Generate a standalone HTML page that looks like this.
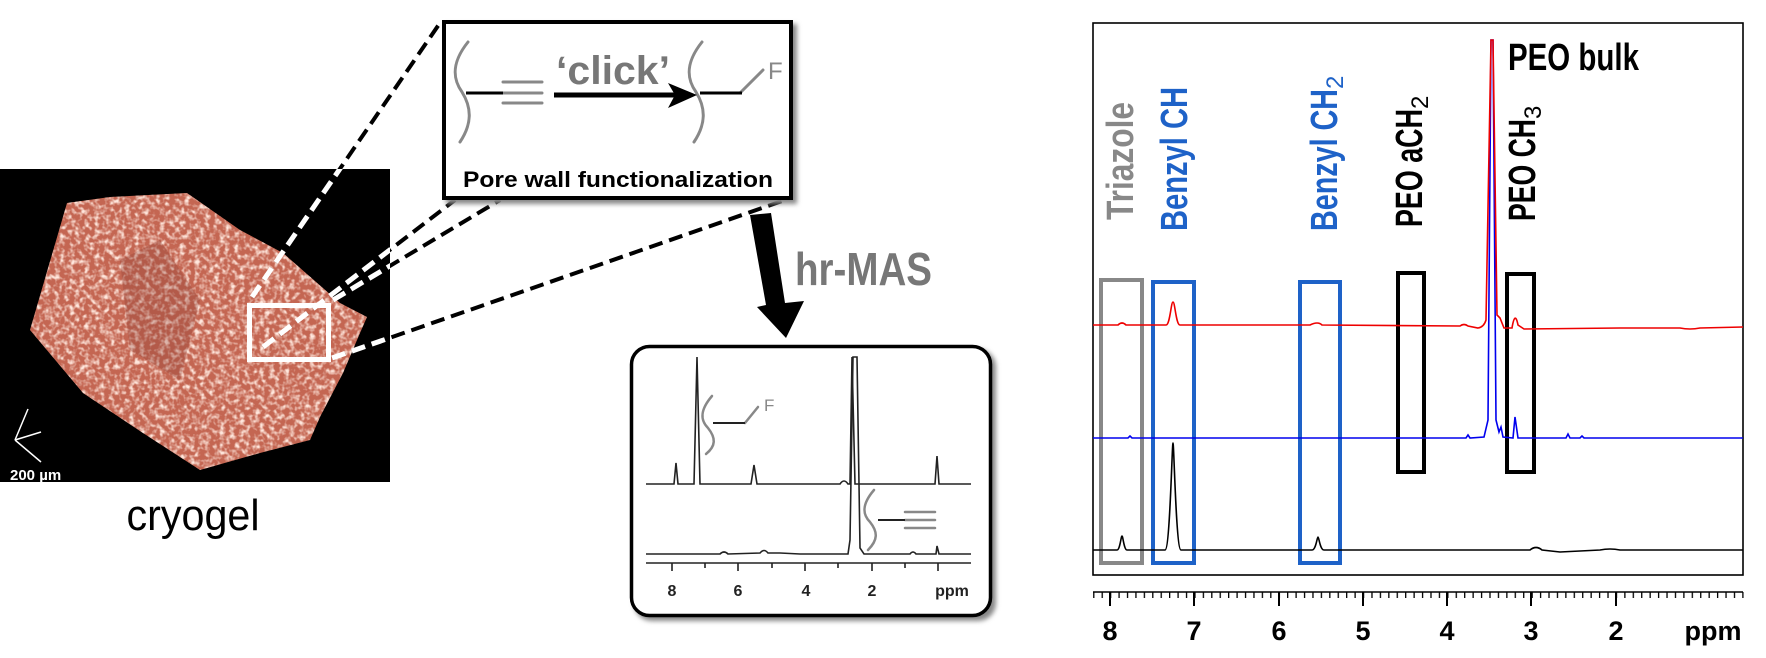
<!DOCTYPE html>
<html><head><meta charset="utf-8"><style>
html,body{margin:0;padding:0;background:#fff;}
svg{display:block;}
</style></head><body>
<svg width="1766" height="658" viewBox="0 0 1766 658" xmlns="http://www.w3.org/2000/svg">
<defs>
<filter id="tex" x="0" y="0" width="100%" height="100%">
<feTurbulence type="fractalNoise" baseFrequency="0.2" numOctaves="2" seed="3" result="n"/>
<feColorMatrix in="n" type="matrix" values="0 0 0 0 1  0 0 0 0 0.8  0 0 0 0 0.72  2.8 0 0 0 -1.2"/>
</filter>
<filter id="sh" x="-10%" y="-10%" width="130%" height="130%"><feGaussianBlur stdDeviation="2.5"/></filter>
<clipPath id="gel"><polygon points="30,330 67,203 110,197 187,193 240,230 283,253 340,303 367,317 360,333 343,373 320,417 310,440 260,453 200,470 143,433 83,393"/></clipPath>
<clipPath id="img"><rect x="0" y="169" width="390" height="313"/></clipPath>
<pattern id="minor" patternUnits="userSpaceOnUse" x="1110" y="592" width="8.43" height="10"><line x1="0.5" y1="0" x2="0.5" y2="6" stroke="#000" stroke-width="1.6"/></pattern>
</defs>

<rect x="0" y="169" width="390" height="313" fill="#000"/>
<g clip-path="url(#gel)">
<rect x="0" y="169" width="390" height="313" fill="#c46652"/>
<rect x="0" y="169" width="390" height="313" filter="url(#tex)"/>
<polygon points="120,260 160,240 200,300 180,380 130,350" fill="#8a3e34" opacity="0.3"/>
</g>
<g stroke="#fff" stroke-width="1.5" fill="none">
<line x1="15" y1="440" x2="28" y2="409"/><line x1="15" y1="440" x2="41" y2="432"/><line x1="15" y1="440" x2="41" y2="462"/>
</g>
<text x="10" y="480" font-family="Liberation Sans, sans-serif" font-weight="bold" font-size="15" fill="#fff">200 µm</text>
<rect x="249.5" y="305.5" width="79" height="54" fill="none" stroke="#fff" stroke-width="5"/>

<g stroke="#000" stroke-width="4" stroke-dasharray="14 7" fill="none">
<line x1="252" y1="297" x2="442" y2="20"/>
<line x1="263" y1="347" x2="455" y2="200"/>
<line x1="333" y1="300" x2="500" y2="200"/>
<line x1="332" y1="358" x2="785" y2="200"/>
</g>
<g clip-path="url(#img)" stroke="#fff" stroke-width="5" stroke-dasharray="14 7" fill="none">
<line x1="252" y1="297" x2="442" y2="20"/>
<line x1="263" y1="347" x2="455" y2="200"/>
<line x1="333" y1="300" x2="500" y2="200"/>
<line x1="332" y1="358" x2="785" y2="200"/>
</g>

<text x="193" y="530" text-anchor="middle" font-family="Liberation Sans Narrow, Liberation Sans, sans-serif" font-size="44" textLength="133" lengthAdjust="spacingAndGlyphs" fill="#000">cryogel</text>

<rect x="446" y="24" width="351" height="180" fill="#888" filter="url(#sh)"/>
<rect x="444" y="22" width="347" height="176" fill="#fff" stroke="#000" stroke-width="4"/>
<g fill="none" stroke="#888" stroke-width="3" stroke-linecap="round">
<path d="M468,42 C452,62 452,78 462,92 C472,108 472,124 460,142"/>
<path d="M702,42 C686,62 686,78 696,92 C706,108 706,124 694,142"/>
<path d="M740,93 L763,70"/>
<line x1="503" y1="82" x2="542" y2="82"/><line x1="503" y1="93" x2="542" y2="93"/><line x1="503" y1="103" x2="542" y2="103"/>
</g>
<line x1="466" y1="93" x2="503" y2="93" stroke="#000" stroke-width="3"/>
<line x1="700" y1="93" x2="742" y2="93" stroke="#000" stroke-width="3"/>
<line x1="554" y1="95" x2="675" y2="95" stroke="#000" stroke-width="5"/>
<polygon points="668,83 697,95 668,108 675,95" fill="#000"/>
<text x="556" y="84" font-family="Liberation Sans, sans-serif" font-weight="bold" font-size="40" textLength="114" lengthAdjust="spacingAndGlyphs" fill="#777">‘click’</text>
<text x="768" y="79" font-family="Liberation Sans, sans-serif" font-size="24" fill="#888">F</text>
<text x="463" y="187" font-family="Liberation Sans, sans-serif" font-weight="bold" font-size="22" textLength="310" lengthAdjust="spacingAndGlyphs" fill="#000">Pore wall functionalization</text>

<polygon points="750,215 771,213 785,303 804,301 786,338 757,307 766,305" fill="#000"/>
<text x="795" y="285" font-family="Liberation Sans, sans-serif" font-weight="bold" font-size="46" textLength="137" lengthAdjust="spacingAndGlyphs" fill="#777">hr-MAS</text>

<rect x="634" y="349" width="362" height="272" rx="18" fill="#888" filter="url(#sh)"/>
<rect x="631.5" y="346.5" width="359" height="269" rx="18" fill="#fff" stroke="#000" stroke-width="3.5"/>
<g fill="none" stroke="#222" stroke-width="1.6">
<path d="M646,484 L672,484 L674,484 L676,463 L678,484 L694,484 L697,357 L700,484 L751,484 L754,465 L757,484 L840,484 Q844,478 848,484 L850,484 L852,357 L855,484 L935,484 L937,456 L939,484 L971,484"/>
<path d="M646,554 L720,554 Q724,550 728,554 L760,553 Q764,548 768,553 L780,553 L800,554 L848,554 L850,540 L853,357 L857,357 L860,548 L864,554 L910,554 Q913,550 916,554 L936,554 L937,546 L939,554 L971,554"/>
<line x1="646" y1="563" x2="971" y2="563"/>
<path d="M672,563 v8 M705,563 v5 M738,563 v8 M772,563 v5 M805,563 v8 M838,563 v5 M872,563 v8 M905,563 v5 M938,563 v8"/>
</g>
<g font-family="Liberation Sans, sans-serif" font-weight="bold" font-size="16" fill="#222" text-anchor="middle">
<text x="672" y="596">8</text><text x="738" y="596">6</text><text x="806" y="596">4</text><text x="872" y="596">2</text><text x="952" y="596">ppm</text>
</g>
<g fill="none" stroke="#888" stroke-width="2.5" stroke-linecap="round">
<path d="M712,396 C700,410 700,420 708,428 C716,438 716,446 706,454"/>
<path d="M745,423 L758,407"/>
<path d="M874,490 C862,504 862,514 870,522 C878,532 878,540 868,550"/>
<line x1="905" y1="512" x2="935" y2="512"/><line x1="905" y1="520" x2="935" y2="520"/><line x1="905" y1="528" x2="935" y2="528"/>
</g>
<line x1="713" y1="423" x2="745" y2="423" stroke="#222" stroke-width="2"/>
<line x1="878" y1="520" x2="905" y2="520" stroke="#222" stroke-width="2"/>
<text x="764" y="411" font-family="Liberation Sans, sans-serif" font-size="17" fill="#888">F</text>

<rect x="1093" y="23" width="650" height="552" fill="none" stroke="#000" stroke-width="1.6"/>
<rect x="1101" y="280" width="41" height="283" fill="none" stroke="#888" stroke-width="4"/>
<rect x="1153" y="282" width="41" height="281" fill="none" stroke="#1e62c8" stroke-width="4"/>
<rect x="1300" y="282" width="40" height="281" fill="none" stroke="#1e62c8" stroke-width="4"/>
<rect x="1398" y="273" width="26" height="199" fill="none" stroke="#000" stroke-width="4"/>
<rect x="1507" y="274" width="27" height="198" fill="none" stroke="#000" stroke-width="4"/>
<path fill="none" stroke="#000" stroke-width="1.6" d="M1093,550 L1117,550 C1120,550 1121,536 1122,536 C1123,536 1124,550 1127,550 L1165,550 C1170,550 1172,443 1173,443 C1174,443 1176,550 1181,550 L1312,550 C1316,550 1317,537 1318,537 C1319,537 1320,550 1324,550 L1530,550 Q1536,545 1542,550 L1560,552 L1600,550 Q1610,548 1620,550 L1743,550"/>
<path fill="none" stroke="#0000ee" stroke-width="1.6" d="M1093,438 L1128,438 l2,-2 l2,2 L1466,438 l2,-3 l2,3 L1484,437 L1488,420 L1491,40 L1493,40 L1496,420 L1499,432 L1501,427 L1503,437 L1513,438 L1515,417 L1518,438 L1566,438 l2,-4 l2,4 L1580,438 l2,-2 l2,2 L1743,438"/>
<path fill="none" stroke="#ee0000" stroke-width="1.6" d="M1093,325 L1118,325 Q1122,321 1126,325 L1166,325 C1170,325 1171,302 1173,302 C1175,302 1176,325 1180,325 L1310,325 Q1318,321 1322,325 L1460,326 Q1464,323 1468,326 L1478,328 Q1484,327 1486,320 L1491,40 L1493,40 L1497,315 L1500,318 L1504,328 L1512,328 Q1515,310 1518,325 L1524,329 L1620,328 L1680,328 Q1690,330 1700,328 L1743,327"/>
<line x1="1093" y1="592" x2="1743" y2="592" stroke="#000" stroke-width="1.6"/>
<rect x="1093" y="592" width="651" height="7" fill="url(#minor)"/>
<path stroke="#000" stroke-width="2" d="M1110,592 v14 M1194,592 v14 M1279,592 v14 M1363,592 v14 M1447,592 v14 M1531,592 v14 M1616,592 v14"/>
<g font-family="Liberation Sans, sans-serif" font-weight="bold" font-size="27" fill="#000" text-anchor="middle">
<text x="1110" y="640">8</text><text x="1194" y="640">7</text><text x="1279" y="640">6</text><text x="1363" y="640">5</text><text x="1447" y="640">4</text><text x="1531" y="640">3</text><text x="1616" y="640">2</text><text x="1713" y="640">ppm</text>
</g>
<g font-family="Liberation Sans Narrow, Liberation Sans, sans-serif" font-weight="bold" font-size="38">
<text transform="translate(1133,220) rotate(-90)" fill="#888" textLength="118" lengthAdjust="spacingAndGlyphs">Triazole</text>
<text transform="translate(1187,231) rotate(-90)" fill="#1e62c8" textLength="144" lengthAdjust="spacingAndGlyphs">Benzyl CH</text>
<text transform="translate(1337,231) rotate(-90)" fill="#1e62c8"><tspan textLength="142" lengthAdjust="spacingAndGlyphs">Benzyl CH</tspan><tspan font-size="24" font-weight="normal" dy="6">2</tspan></text>
<text transform="translate(1422,227) rotate(-90)" fill="#000"><tspan textLength="118" lengthAdjust="spacingAndGlyphs">PEO aCH</tspan><tspan font-size="24" font-weight="normal" dy="6">2</tspan></text>
<text transform="translate(1535,221) rotate(-90)" fill="#000"><tspan textLength="102" lengthAdjust="spacingAndGlyphs">PEO CH</tspan><tspan font-size="24" font-weight="normal" dy="6">3</tspan></text>
<text x="1508" y="70" fill="#000" textLength="131" lengthAdjust="spacingAndGlyphs">PEO bulk</text>
</g>
</svg>
</body></html>
